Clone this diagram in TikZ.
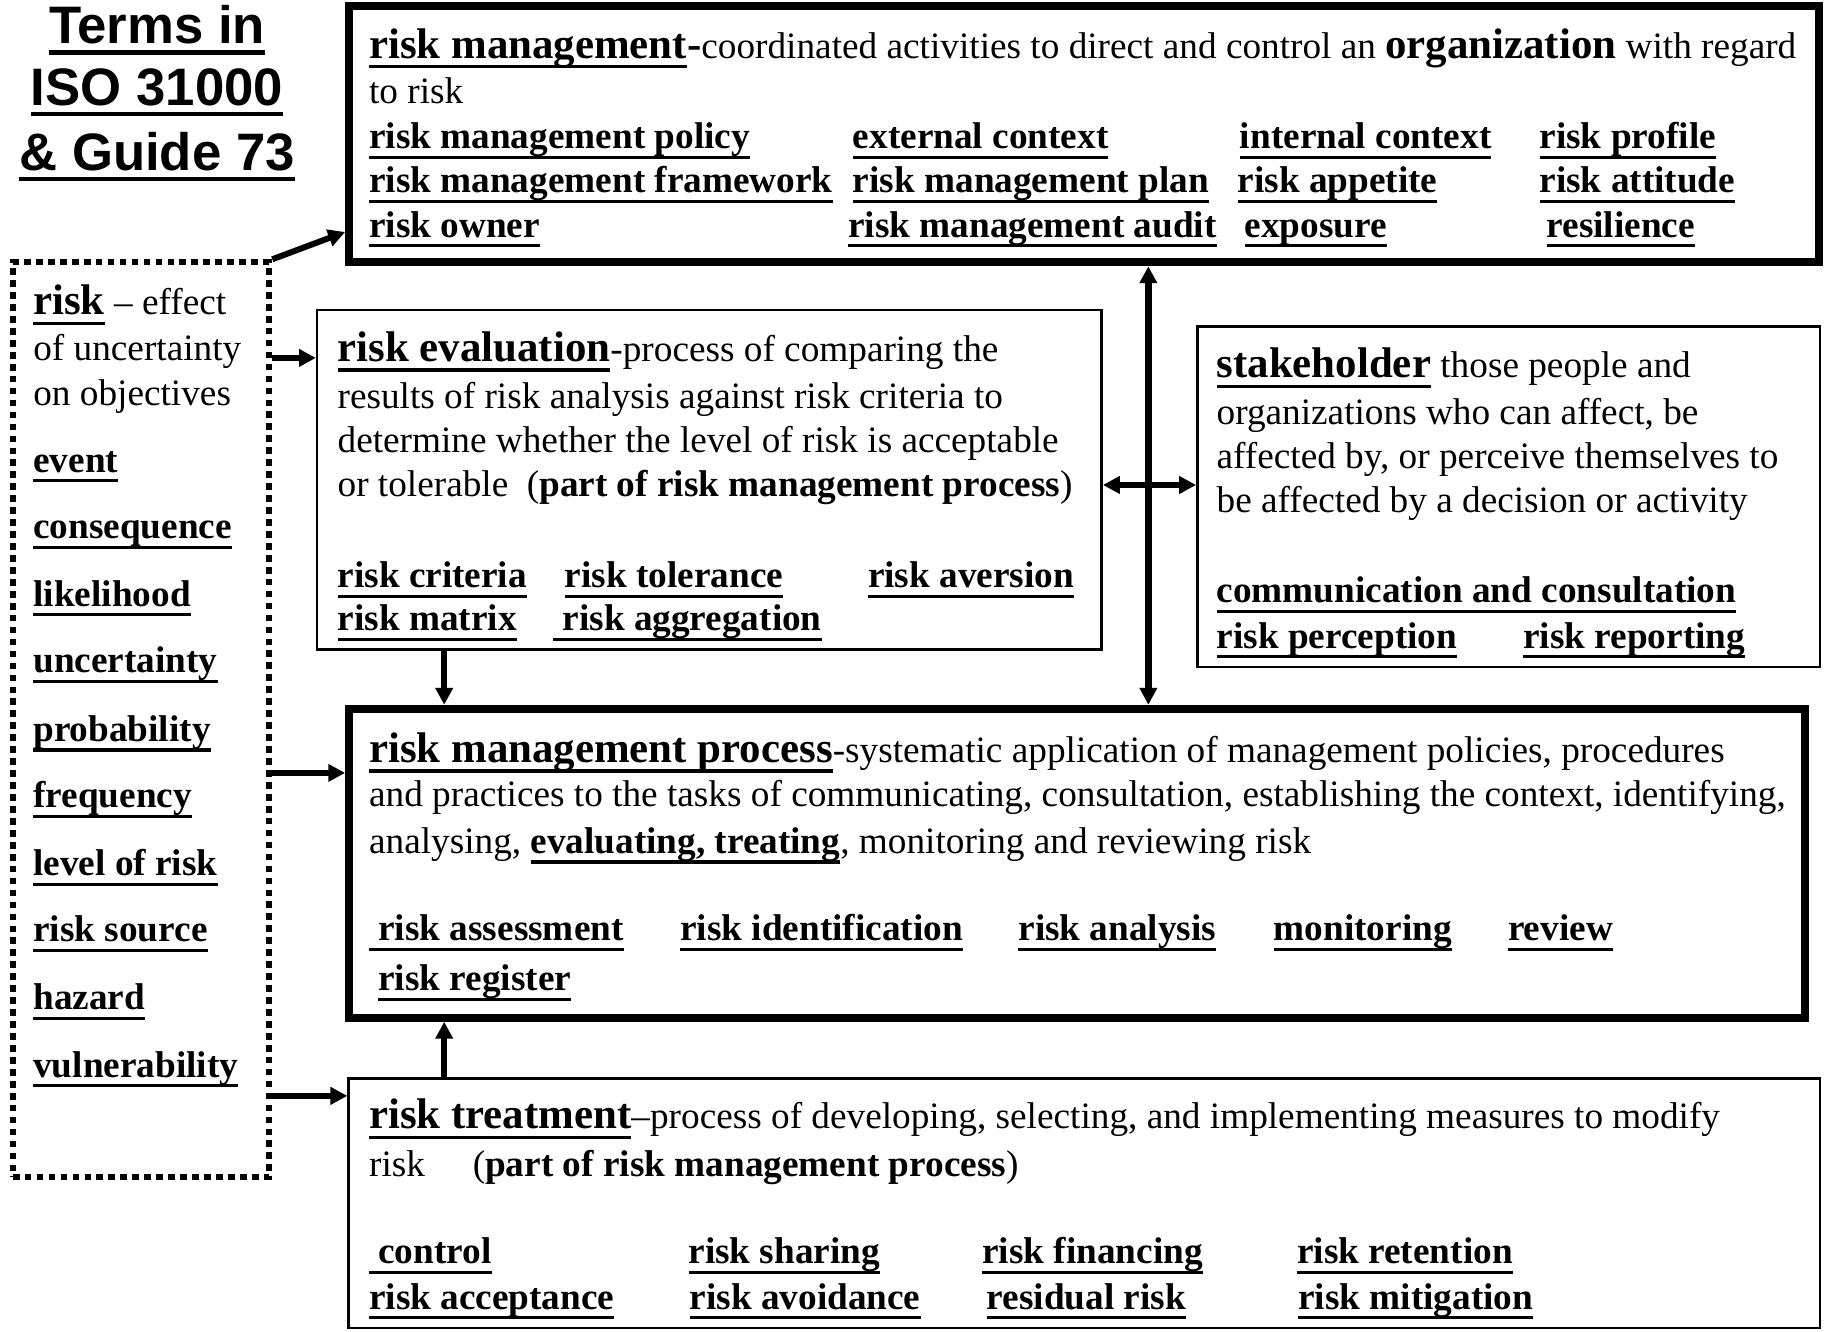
\documentclass[tikz,border=0pt]{standalone}
\usepackage{fontspec}
\setmainfont{Liberation Serif}
\newfontfamily\titlefont{Liberation Sans}
\usetikzlibrary{arrows.meta,fit}
\newdimen\ULd \newdimen\ULt
\ULd=2pt \ULt=0.9pt
\newcommand\ulx[1]{\setbox0\hbox{#1}\leavevmode\rlap{\vrule height -\ULd depth \dimexpr\ULd+\ULt\relax width \wd0}\box0}
\newcommand\hd[1]{{\fontsize{12.2}{14}\selectfont\bfseries\ulx{#1}}}
\newcommand\tm[1]{{\bfseries\ulx{#1}}}
\newcommand\ttl[1]{{\ULd=1.8pt \ULt=1.3pt \ulx{#1}}}
\tikzset{
  txt/.style={anchor=base west, inner sep=0pt, font=\fontsize{10.6}{12}\selectfont},
  ttlstyle/.style={anchor=base, inner sep=0pt, font=\titlefont\bfseries\fontsize{15}{18}\selectfont},
  thickbox/.style={draw, line width=2.3pt, inner sep=0pt},
  thinbox/.style={draw, line width=0.7pt, inner sep=0pt},
  dotbox/.style={draw, line width=1.7pt, dash pattern=on 1.9pt off 1.5pt, inner sep=0pt},
  arr/.style={line width=1.7pt, -{Triangle[length=4.8pt,width=4.8pt]}},
  darr/.style={line width=1.8pt, {Triangle[length=4.8pt,width=4.8pt]}-{Triangle[length=4.8pt,width=4.8pt]}}
}
\begin{document}
\begin{tikzpicture}[x=0.011658cm, y=-0.011658cm]
\useasboundingbox (0,0) rectangle (1568,1142);

% boxes
\node[thickbox, fit={(299.5,5) (1560,225)}] (rm) {};
\node[dotbox, fit={(11,225) (231,1010)}] (dot) {};
\node[thinbox, fit={(272,266) (945,557)}] (ev) {};
\node[thinbox, fit={(1027,280) (1561,572)}] (sh) {};
\node[thickbox, fit={(299.5,608) (1548,873)}] (proc) {};
\node[thinbox, fit={(299,925) (1561,1139)}] (tr) {};

% title
\node[ttlstyle] (t1) at (134.7,37.5) {\ttl{Terms in}};
\node[ttlstyle] (t2) at (134.7,90.5) {\ttl{ISO 31000}};
\node[ttlstyle] (t3) at (134.7,146.3) {\ttl{\&~Guide~73}};

% risk management box
\node[txt] (rm1) at (316,50) {\hd{risk management}{\fontsize{12.2}{14}\selectfont\bfseries -}coordinated activities to direct and control an {\fontsize{12.2}{14}\selectfont\bfseries organization} with regard};
\node[txt] (rm2) at (316,89) {to risk};
\node[txt] (rma1) at (316,127.5) {\tm{risk management policy}};
\node[txt] (rma2) at (731,127.5) {\tm{external context}};
\node[txt] (rma3) at (1063,127.5) {\tm{internal context}};
\node[txt] (rma4) at (1320,127.5) {\tm{risk profile}};
\node[txt] (rmb1) at (316,165.5) {\tm{risk management framework}};
\node[txt] (rmb2) at (731,165.5) {\tm{risk management plan}};
\node[txt] (rmb3) at (1061,165.5) {\tm{risk appetite}};
\node[txt] (rmb4) at (1320,165.5) {\tm{risk attitude}};
\node[txt] (rmc1) at (316,203.5) {\tm{risk owner}};
\node[txt] (rmc2) at (727,203.5) {\tm{risk management audit}};
\node[txt] (rmc3) at (1067,203.5) {\tm{exposure}};
\node[txt] (rmc4) at (1326,203.5) {\tm{resilience}};

% dotted box terms
\node[txt] (d1) at (28,270) {\hd{risk} -- effect};
\node[txt] (d2) at (28,309) {of uncertainty};
\node[txt] (d3) at (28,348) {on objectives};
\node[txt] (d4) at (28,405) {\tm{event}};
\node[txt] (d5) at (28,462) {\tm{consequence}};
\node[txt] (d6) at (28,520) {\tm{likelihood}};
\node[txt] (d7) at (28,577) {\tm{uncertainty}};
\node[txt] (d8) at (28,636) {\tm{probability}};
\node[txt] (d9) at (28,693) {\tm{frequency}};
\node[txt] (d10) at (28,751) {\tm{level of risk}};
\node[txt] (d11) at (28,808) {\tm{risk source}};
\node[txt] (d12) at (28,866) {\tm{hazard}};
\node[txt] (d13) at (28,924) {\tm{vulnerability}};

% risk evaluation box
\node[txt] (e1) at (289,310) {\hd{risk evaluation}-process of comparing the};
\node[txt] (e2) at (289,350) {results of risk analysis against risk criteria to};
\node[txt] (e3) at (289,388) {determine whether the level of risk is acceptable};
\node[txt] (e4) at (289,426) {or tolerable\ \ (\textbf{part of risk management process})};
\node[txt] (ea1) at (289,504) {\tm{risk criteria}};
\node[txt] (ea2) at (484,504) {\tm{risk tolerance}};
\node[txt] (ea3) at (744,504) {\tm{risk aversion}};
\node[txt] (eb1) at (289,541) {\tm{risk matrix}};
\node[txt] (eb2) at (474,541) {\tm{\ risk aggregation}};

% stakeholder box
\node[txt] (s1) at (1043,324) {\hd{stakeholder} those people and};
\node[txt] (s2) at (1043,364) {organizations who can affect, be};
\node[txt] (s3) at (1043,402) {affected by, or perceive themselves to};
\node[txt] (s4) at (1043,440) {be affected by a decision or activity};
\node[txt] (sa1) at (1043,517) {\tm{communication and consultation}};
\node[txt] (sb1) at (1043,556) {\tm{risk perception}};
\node[txt] (sb2) at (1306,556) {\tm{risk reporting}};

% risk management process box
\node[txt] (p1) at (316,654) {\hd{risk management process}-systematic application of management policies, procedures};
\node[txt] (p2) at (316,692) {and practices to the tasks of communicating, consultation, establishing the context, identifying,};
\node[txt] (p3) at (316,732) {analysing, \tm{evaluating, treating}, monitoring and reviewing risk};
\node[txt] (pa1) at (316,807) {\tm{\ risk assessment}};
\node[txt] (pa2) at (583,807) {\tm{risk identification}};
\node[txt] (pa3) at (873,807) {\tm{risk analysis}};
\node[txt] (pa4) at (1092,807) {\tm{monitoring}};
\node[txt] (pa5) at (1293,807) {\tm{review}};
\node[txt] (pb1) at (324,850) {\tm{risk register}};

% risk treatment box
\node[txt] (r1) at (316,968) {\hd{risk treatment}--process of developing, selecting, and implementing measures to modify};
\node[txt] (r2) at (316,1009) {risk};
\node[txt] (r3) at (405,1009) {(\textbf{part of risk management process})};
\node[txt] (ra1) at (316,1084) {\tm{\ control}};
\node[txt] (ra2) at (590,1084) {\tm{risk sharing}};
\node[txt] (ra3) at (842,1084) {\tm{risk financing}};
\node[txt] (ra4) at (1112,1084) {\tm{risk retention}};
\node[txt] (rb1) at (316,1123) {\tm{risk acceptance}};
\node[txt] (rb2) at (591,1123) {\tm{risk avoidance}};
\node[txt] (rb3) at (846,1123) {\tm{residual risk}};
\node[txt] (rb4) at (1113,1123) {\tm{risk mitigation}};

% connector helper coordinates
\coordinate (a1) at (0,199);
\coordinate (a2) at (0,307);
\coordinate (a3) at (0,663);
\coordinate (a4) at (0,940);
\coordinate (h1) at (0,416);
\coordinate (v1) at (985,0);
\coordinate (v2) at (381,0);

% connectors
\draw[arr] (dot.north east) -- (rm.west |- a1);
\draw[arr] (dot.east |- a2) -- (ev.west |- a2);
\draw[arr] (dot.east |- a3) -- (proc.west |- a3);
\draw[arr] (dot.east |- a4) -- (tr.west |- a4);
\draw[darr] (rm.south -| v1) -- (proc.north -| v1);
\draw[darr] (ev.east |- h1) -- (sh.west |- h1);
\draw[arr] (ev.south -| v2) -- (proc.north -| v2);
\draw[arr] (tr.north -| v2) -- (proc.south -| v2);
\end{tikzpicture}
\end{document}
